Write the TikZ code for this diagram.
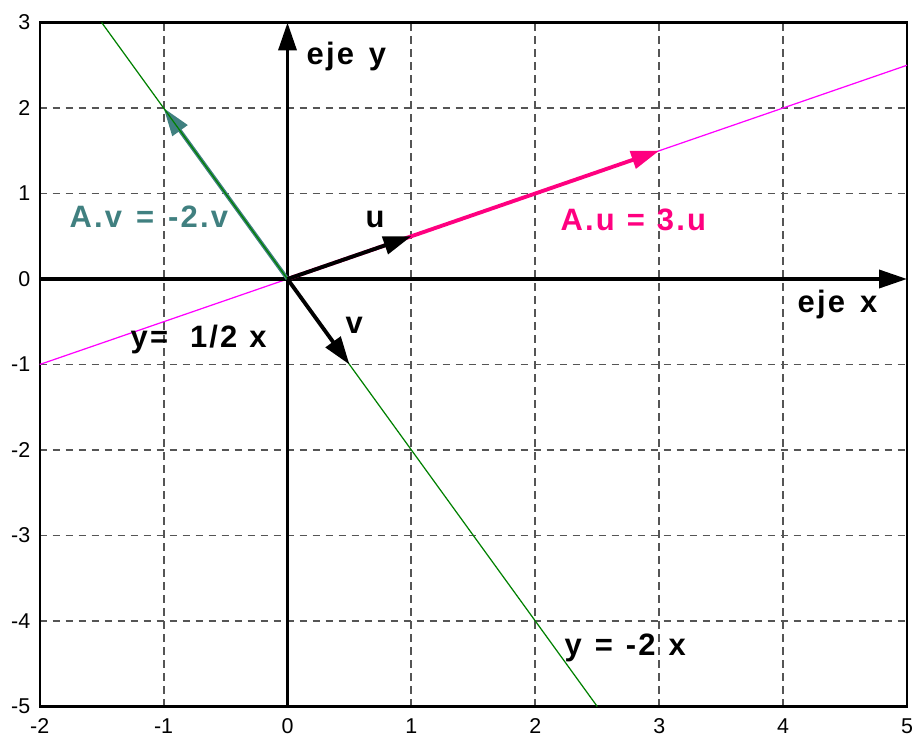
\documentclass[tikz,border=0pt]{standalone}
\usepackage{fontspec}
\setmainfont{Liberation Sans}
\newfontfamily\lblfont[LetterSpace=7]{Liberation Sans}
\usetikzlibrary{arrows.meta}
\definecolor{tealv}{RGB}{64,128,128}
\definecolor{pinku}{RGB}{255,0,128}
\definecolor{gridgray}{RGB}{85,85,85}
\definecolor{linegreen}{RGB}{0,128,0}
\definecolor{linemag}{RGB}{255,0,255}
\newcommand{\lsp}[1]{\hspace{#1cm}}
\begin{document}
\begin{tikzpicture}[x=1.239cm, y=0.855cm,
  gridline/.style={gridgray, line width=0.55pt, dash pattern=on 0.075cm off 0.055cm},
  frameline/.style={black, line width=0.6pt},
  tipstyle/.style={-{Triangle[length=0.28cm,width=0.18cm]}},
  axisline/.style={black, line width=1.05pt, tipstyle},
  vec/.style={line width=1.1pt, tipstyle},
  thinline/.style={line width=0.35pt},
  ticklbl/.style={font=\fontsize{6.1}{7}\selectfont, inner sep=0pt},
  lbl/.style={font=\lblfont\fontsize{8.8}{10}\selectfont\bfseries, inner sep=0pt, anchor=base west}]
\useasboundingbox (-2.875cm,-4.57cm) rectangle (6.285cm,2.79cm);
% grid
\foreach \x in {-1,1,2,3,4} \draw[gridline] (\x,-5) -- (\x,3);
\foreach \y in {-4,-3,-2,-1,1,2} \draw[gridline] (-2,\y) -- (5,\y);
% frame
\draw[frameline] (-2,-5) rectangle (5,3);
% tick labels
\foreach \y in {-5,...,3} \node[ticklbl, anchor=east] (ty\y) at (-2.565cm,\y) {\y};
\foreach \x in {-2,...,5} \node[ticklbl, anchor=north] (tx\x) at (\x,-4.39cm) {\x};
% coordinates
\coordinate (O) at (0,0);
\coordinate (XL) at (-2,0);
\coordinate (XR) at (5,0);
\coordinate (YB) at (0,-5);
\coordinate (YT) at (0,3);
\coordinate (U) at (1,0.5);
\coordinate (AU) at (3,1.5);
\coordinate (V) at (0.5,-1);
\coordinate (AV) at (-1,2);
\coordinate (M1) at (-2,-1);
\coordinate (M2) at (5,2.5);
\coordinate (G1) at (-1.5,3);
\coordinate (G2) at (2.5,-5);
% eigen lines
\draw[thinline, linemag] (M1) -- (M2);
% axes
\draw[axisline] (XL) -- (XR);
\draw[axisline] (YB) -- (YT);
% vectors
\draw[vec, pinku] (O) -- (AU);
\draw[vec, tealv] (O) -- (AV);
\draw[thinline, linegreen] (G1) -- (G2);
\draw[vec, black] (O) -- (U);
\draw[vec, black] (O) -- (V);
% labels
\node[lbl] (ejey) at (0.185cm,2.14cm) {eje\lsp{0.15}y};
\node[lbl] (ejex) at (5.095cm,-0.33cm) {eje\lsp{0.15}x};
\node[lbl, tealv] (lav) at (-2.185cm,0.51cm) {A.v\lsp{0.14}=\lsp{0.14}-2.v};
\node[lbl] (lu) at (0.775cm,0.51cm) {u};
\node[lbl, pinku] (lau) at (2.725cm,0.49cm) {A.u\lsp{0.12}=\lsp{0.12}3.u};
\node[lbl] (lv) at (0.575cm,-0.54cm) {v};
\node[lbl] (lm) at (-1.575cm,-0.68cm) {y=\lsp{0.22}1/2\lsp{0.12}x};
\node[lbl] (lg) at (2.765cm,-3.76cm) {y\lsp{0.13}=\lsp{0.13}-2\lsp{0.13}x};
\end{tikzpicture}
\end{document}
